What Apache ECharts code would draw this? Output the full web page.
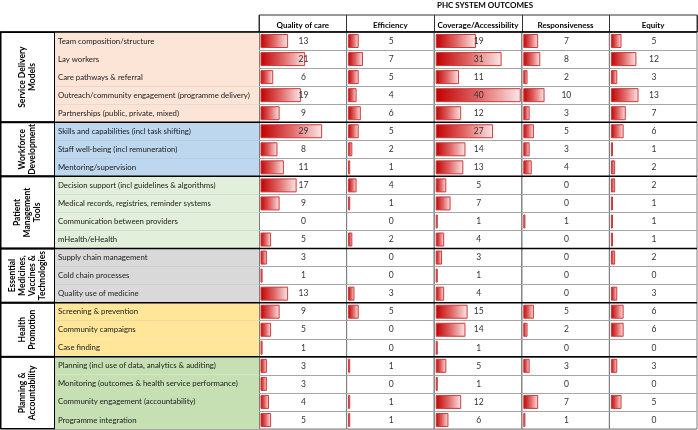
<!DOCTYPE html>
<html>
<head>
<meta charset="utf-8">
<script src="https://cdn.jsdelivr.net/npm/echarts@6/dist/echarts.min.js"></script>
<style>html,body{margin:0;padding:0;background:#fff}#c{width:698px;height:430px}</style>
</head>
<body>
<div id="c"></div>
<script>
const rowLabels = [
  'Team composition/structure','Lay workers','Care pathways & referral',
  'Outreach/community engagement (programme delivery)','Partnerships (public, private, mixed)',
  'Skills and capabilities (incl task shifting)','Staff well-being (incl remuneration)','Mentoring/supervision',
  'Decision support (incl guidelines & algorithms)','Medical records, registries, reminder systems',
  'Communication between providers','mHealth/eHealth',
  'Supply chain management','Cold chain processes','Quality use of medicine',
  'Screening & prevention','Community campaigns','Case finding',
  'Planning (incl use of data, analytics & auditing)','Monitoring (outcomes & health service performance)',
  'Community engagement (accountability)','Programme integration'
];
const groupNames = ['Service Delivery\nModels','Workforce\nDevelopment','Patient\nManagement\nTools',
  'Essential\nMedicines,\nVaccines &\nTechnologies','Health\nPromotion','Planning &\nAccountability'];
const groupSizes = [5,3,4,3,3,4];
const groupColors = ['#FCE4D6','#BDD7EE','#E2EFDA','#D9D9D9','#FFE699','#C6E0B4'];
const outcomes = ['Quality of care','Efficiency','Coverage/Accessibility','Responsiveness','Equity'];
const quality        = [13,21,6,19,9, 29,8,11, 17,9,0,5, 3,1,13, 9,5,1, 3,3,4,5];
const efficiency     = [5,7,5,4,6,    5,2,1,   4,1,0,2,  0,0,3,  5,0,0, 1,0,1,1];
const coverage       = [19,31,11,40,12, 27,14,13, 5,7,1,4, 3,1,4, 15,14,1, 5,1,12,6];
const responsiveness = [7,8,2,10,3,   5,3,4,   0,0,1,0,  0,0,0,  5,2,0, 3,0,7,1];
const equity         = [5,12,3,13,7,  6,1,2,   2,1,1,1,  2,0,3,  6,6,0, 3,0,5,0];
const columns = [quality, efficiency, coverage, responsiveness, equity];

const FONT = 'Lato';
const TOP = 32, H = 397;
const COL0 = 259, COLW = 87.6;
const XMIN = -0.7, XMAX = 40.5;

const rowGroup = [];
groupSizes.forEach((s, g) => { for (let i = 0; i < s; i++) rowGroup.push(g); });
const boundaries = [0];
groupSizes.forEach(s => boundaries.push(boundaries[boundaries.length - 1] + s));

const grid = [], xAxis = [], yAxis = [], series = [];
function catY(gi) {
  return {
    gridIndex: gi, type: 'category', data: rowLabels, inverse: true,
    axisLine: {show: false}, axisTick: {show: false}, axisLabel: {show: false},
    splitLine: {show: true, interval: 0, lineStyle: {color: '#a6a6a6', width: 1}}
  };
}

// group label column
grid.push({left: 0.5, top: TOP, width: 54.5, height: H, show: true, borderColor: '#000', borderWidth: 1});
xAxis.push({gridIndex: 0, type: 'category', data: ['g'], show: false});
yAxis.push({gridIndex: 0, type: 'value', min: 0, max: rowLabels.length, inverse: true, show: false});
groupNames.forEach((name, g) => {
  series.push({
    type: 'bar', xAxisIndex: 0, yAxisIndex: 0, stack: 'grp', barWidth: '100%',
    data: [groupSizes[g]], silent: true,
    itemStyle: {color: '#fff', borderColor: '#000', borderWidth: 1},
    label: {show: true, position: 'inside', rotate: 90, formatter: name,
      fontFamily: FONT, fontWeight: 'bold', fontSize: 8.5, lineHeight: 10, color: '#000'}
  });
});

// row label column
grid.push({left: 55, top: TOP, width: COL0 - 55, height: H, show: true, borderColor: '#000', borderWidth: 1});
xAxis.push({gridIndex: 1, type: 'value', min: 0, max: 1, show: false});
yAxis.push(catY(1));
series.push({
  type: 'bar', xAxisIndex: 1, yAxisIndex: 1, barWidth: '100%', silent: true,
  data: rowLabels.map((r, i) => ({value: 1, itemStyle: {color: groupColors[rowGroup[i]]}})),
  label: {show: true, position: 'insideLeft', distance: 3, formatter: '{b}',
    fontFamily: FONT, fontSize: 7.8, color: '#1a1a1a'}
});

// data columns
columns.forEach((vals, c) => {
  const gi = grid.length;
  grid.push({left: COL0 + c * COLW, top: TOP, width: COLW, height: H, show: true, borderColor: '#7f7f7f', borderWidth: 1});
  xAxis.push({gridIndex: gi, type: 'value', min: XMIN, max: XMAX, show: false});
  yAxis.push(catY(gi));
  series.push({
    type: 'bar', xAxisIndex: gi, yAxisIndex: gi, barWidth: 14, silent: true,
    data: vals.map(v => ({value: v, itemStyle: v === 0 ? {borderWidth: 0, opacity: 0} : undefined})),
    itemStyle: {
      color: new echarts.graphic.LinearGradient(0, 0, 1, 0, [
        {offset: 0, color: '#C00000'}, {offset: 0.5, color: '#E06666'}, {offset: 1, color: '#FCE8E8'}]),
      borderColor: '#CC3B3B', borderWidth: 1
    }
  });
  series.push({
    type: 'bar', xAxisIndex: gi, yAxisIndex: gi, barWidth: 14, barGap: '-100%', silent: true,
    data: vals.map(() => XMAX),
    itemStyle: {color: 'rgba(0,0,0,0)'},
    label: {show: true, position: 'inside', formatter: p => String(vals[p.dataIndex]),
      fontFamily: FONT, fontSize: 8.5, color: '#333'}
  });
});

// header
const hg = grid.length;
grid.push({left: COL0, top: 11, width: COLW * 5, height: TOP - 11, show: true, borderColor: '#333', borderWidth: 1});
xAxis.push({gridIndex: hg, type: 'category', data: outcomes, position: 'top',
  name: 'PHC SYSTEM OUTCOMES', nameLocation: 'middle', nameGap: 6,
  nameTextStyle: {fontFamily: FONT, fontWeight: 'bold', fontSize: 8, color: '#000', padding: [0, 0, 0, 14]},
  axisLine: {show: false}, axisTick: {show: false},
  splitLine: {show: true, interval: 0, lineStyle: {color: '#333', width: 1}},
  axisLabel: {inside: true, margin: 10, verticalAlign: 'middle', interval: 0,
    fontFamily: FONT, fontWeight: 'bold', fontSize: 8, color: '#000'}});
yAxis.push({gridIndex: hg, type: 'value', show: false});

// group separator lines across the whole table
const og = grid.length;
grid.push({left: 0, top: TOP, width: COL0 + COLW * 5, height: H});
xAxis.push({gridIndex: og, type: 'value', min: 0, max: 1, show: false});
yAxis.push({gridIndex: og, type: 'value', min: 0, max: rowLabels.length, inverse: true, show: false});
series.push({
  type: 'custom', xAxisIndex: og, yAxisIndex: og, silent: true, z: 10,
  data: boundaries.slice(0, -1).map(b => [0, b]),
  renderItem: (params, api) => {
    const y = api.value(1);
    const p1 = api.coord([0, y]), p2 = api.coord([1, y]);
    return {type: 'line', shape: {x1: p1[0], y1: p1[1], x2: p2[0], y2: p2[1]},
      style: {stroke: '#000', lineWidth: 1.5}};
  }
});

const chart = echarts.init(document.getElementById('c'), null, {renderer: 'canvas'});
chart.setOption({animation: false, backgroundColor: '#fff', grid, xAxis, yAxis, series});
</script>
</body>
</html>
